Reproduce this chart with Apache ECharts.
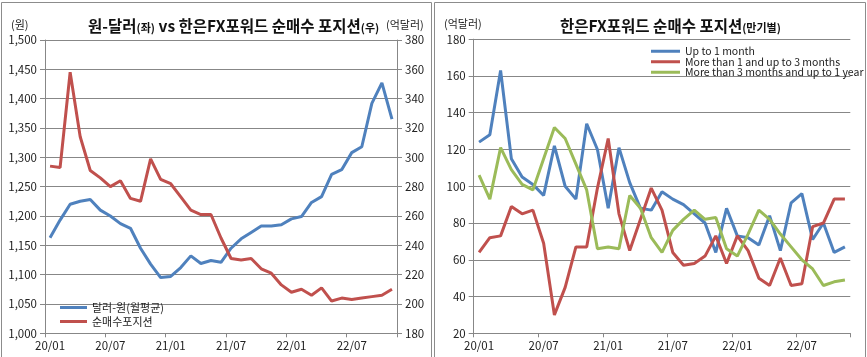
<!DOCTYPE html>
<html><head><meta charset="utf-8">
<script src="https://cdn.jsdelivr.net/npm/echarts@6/dist/echarts.min.js"></script>
<style>html,body{margin:0;padding:0;background:#fff}#c{width:867px;height:357px}</style>
</head><body><div id="c"></div>
<script>
var categories = ['20/01','20/02','20/03','20/04','20/05','20/06','20/07','20/08','20/09','20/10','20/11','20/12',
  '21/01','21/02','21/03','21/04','21/05','21/06','21/07','21/08','21/09','21/10','21/11','21/12',
  '22/01','22/02','22/03','22/04','22/05','22/06','22/07','22/08','22/09','22/10','22/11'];
var usdKrw = [1163,1193,1220,1225,1228,1210,1200,1187,1179,1145,1118,1095,1097,1112,1132,1119,1124,1121,1145,1161,1172,1183,1183,1185,1195,1199,1223,1233,1271,1279,1308,1318,1392,1427,1365];
var netPosition = [294,293,358,314,291,286,280,284,272,270,299,285,282,273,264,261,261,245,231,230,231,224,221,213,208,210,206,211,202,204,203,204,205,206,210];
var upTo1m = [124,128,163,115,105,101,95,122,100,93,134,120,88,121,102,88,87,97,93,90,85,80,64,88,73,72,68,84,65,91,96,71,80,64,67];
var from1to3m = [64,72,73,89,85,87,69,30,45,67,67,99,126,85,65,82,99,87,64,57,58,62,73,58,73,65,50,46,61,46,47,78,80,93,93];
var from3mTo1y = [106,93,121,109,101,98,115,132,126,112,98,66,67,66,95,88,72,64,76,82,87,82,83,66,62,74,87,82,74,67,60,55,46,48,49];
var leftTicks = {min:1000, max:1500, interval:50};
var rightTicks = {min:180, max:380, interval:20};
var panel2Ticks = {min:20, max:180, interval:20};

var FONT = "'Noto Sans CJK KR', 'Liberation Sans', sans-serif";
var GRID = '#878787';
var TXT = '#222';
var BLUE = '#4F81BD', RED = '#C0504D', GREEN = '#9BBB59';

function catAxis(gi){
  return {type:'category', gridIndex:gi, data:categories, boundaryGap:true,
    axisLine:{lineStyle:{color:GRID,width:1}},
    axisTick:{show:true, interval:5, length:4, lineStyle:{color:GRID}},
    axisLabel:{interval:5, color:TXT, fontFamily:FONT, fontSize:11.5, margin:7},
    splitLine:{show:false}};
}
function valAxis(gi, t, pos, fmt, showSplit){
  return {type:'value', gridIndex:gi, position:pos, min:t.min, max:t.max, interval:t.interval,
    axisLine:{show:true, lineStyle:{color:GRID,width:1}},
    axisTick:{show:true, length:5, lineStyle:{color:GRID}},
    axisLabel:{color:TXT, fontFamily:FONT, fontSize:11.5, margin:8, formatter:fmt},
    splitLine:{show:showSplit, lineStyle:{color:GRID,width:1}}};
}
function comma(v){ return String(v).replace(/\B(?=(\d{3})+(?!\d))/g, ','); }

var chart = echarts.init(document.getElementById('c'), null, {renderer:'canvas'});
chart.setOption({
  animation:false,
  backgroundColor:'#fff',
  title:[
    {left:83, top:13, text:'{a|원-달러}{b|(좌)}{a| vs 한은FX포워드 순매수 포지션}{b|(우)}',
     textStyle:{rich:{a:{fontFamily:FONT,fontSize:15.5,fontWeight:'bold',color:'#111'},b:{fontFamily:FONT,fontSize:11,color:'#111',verticalAlign:'bottom'}}}},
    {left:555, top:13, text:'{a|한은FX포워드 순매수 포지션}{b|(만기별)}',
     textStyle:{rich:{a:{fontFamily:FONT,fontSize:15.5,fontWeight:'bold',color:'#111'},b:{fontFamily:FONT,fontSize:11,color:'#111',verticalAlign:'bottom'}}}}
  ],
  grid:[
    {left:45, top:40, width:352, height:293.3},
    {left:473.7, top:39.2, width:376.6, height:294.1}
  ],
  xAxis:[catAxis(0), catAxis(1)],
  yAxis:[
    valAxis(0, leftTicks, 'left', comma, true),
    valAxis(0, rightTicks, 'right', null, false),
    valAxis(1, panel2Ticks, 'left', null, true)
  ],
  legend:[
    {orient:'vertical', left:55, top:297, itemWidth:27, itemHeight:3, itemGap:3, icon:'rect',
     data:['달러-원(월평균)','순매수포지션'],
     textStyle:{fontFamily:FONT,fontSize:11,color:TXT}},
    {orient:'vertical', left:646, top:41, itemWidth:29, itemHeight:3, itemGap:0, icon:'rect',
     data:['Up to 1 month','More than 1 and up to 3 months','More than 3 months and up to 1 year'],
     textStyle:{fontFamily:FONT,fontSize:10.5,color:TXT}}
  ],
  series:[
    {name:'달러-원(월평균)', type:'line', xAxisIndex:0, yAxisIndex:0, data:usdKrw, symbol:'none', lineStyle:{width:3,color:BLUE}, itemStyle:{color:BLUE}},
    {name:'순매수포지션', type:'line', xAxisIndex:0, yAxisIndex:1, data:netPosition, symbol:'none', lineStyle:{width:3,color:RED}, itemStyle:{color:RED}},
    {name:'Up to 1 month', type:'line', xAxisIndex:1, yAxisIndex:2, data:upTo1m, symbol:'none', lineStyle:{width:3,color:BLUE}, itemStyle:{color:BLUE}},
    {name:'More than 1 and up to 3 months', type:'line', xAxisIndex:1, yAxisIndex:2, data:from1to3m, symbol:'none', lineStyle:{width:3,color:RED}, itemStyle:{color:RED}},
    {name:'More than 3 months and up to 1 year', type:'line', xAxisIndex:1, yAxisIndex:2, data:from3mTo1y, symbol:'none', lineStyle:{width:3,color:GREEN}, itemStyle:{color:GREEN}}
  ],
  graphic:[
    {type:'rect', shape:{x:1.5, y:2.5, width:430, height:360}, style:{fill:'none', stroke:'#8c8c8c', lineWidth:1}, silent:true},
    {type:'rect', shape:{x:434.5, y:2.5, width:431, height:360}, style:{fill:'none', stroke:'#8c8c8c', lineWidth:1}, silent:true},
    {type:'text', left:11, top:19, style:{text:'(원)', font:'11px '+FONT, fill:TXT}},
    {type:'text', left:386, top:19, style:{text:'(억달러)', font:'11px '+FONT, fill:TXT}},
    {type:'text', left:444, top:18, style:{text:'(억달러)', font:'11px '+FONT, fill:TXT}}
  ]
});
</script></body></html>
